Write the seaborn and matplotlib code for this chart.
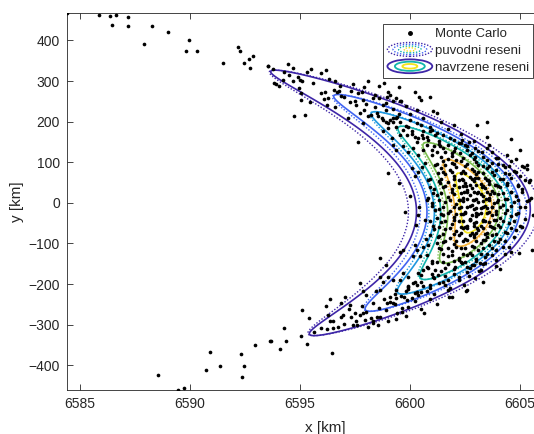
import numpy as np
import matplotlib
matplotlib.use("Agg")
import matplotlib.pyplot as plt
import seaborn as sns
from matplotlib.legend_handler import HandlerBase
from matplotlib.patches import Ellipse
from matplotlib.lines import Line2D

# Monte Carlo samples (x, y in km)
arm_up_x = [6584.39, 6585.88, 6586.37, 6586.61, 6587.19, 6586.43, 6587.16, 6588.26, 6587.92, 6589.0,
            6589.96, 6589.83, 6590.30, 6591.48, 6592.18, 6592.26, 6592.47, 6592.66, 6592.85, 6592.72,
            6593.52, 6594.44, 6594.67, 6593.55, 6593.75, 6594.28, 6594.48, 6594.24, 6593.83, 6593.90,
            6594.05, 6594.67, 6594.89, 6595.0, 6595.08, 6594.94, 6595.32, 6595.50, 6595.96, 6596.19,
            6596.29, 6596.57, 6595.58, 6595.05, 6595.96, 6596.14, 6596.08, 6596.26, 6596.53, 6596.69,
            6596.75, 6595.05, 6595.44, 6596.23, 6596.60, 6596.87, 6594.70, 6595.24,
            6597.33, 6597.64, 6597.79, 6597.25, 6597.56, 6597.86, 6598.32, 6598.58, 6598.78, 6598.93,
            6599.08, 6599.23, 6599.38, 6599.54, 6600.42, 6600.48, 6601.06, 6597.18, 6597.71, 6597.86,
            6598.09, 6598.24, 6598.55, 6598.70, 6598.78, 6598.90, 6599.0, 6599.08, 6599.23, 6599.35,
            6599.54, 6599.38, 6599.69, 6599.0, 6598.78, 6599.16, 6599.54, 6599.84, 6600.07, 6600.22,
            6600.37, 6600.53, 6600.75, 6600.90, 6601.13, 6599.23, 6599.38, 6599.69, 6599.91, 6600.14,
            6600.37, 6600.75, 6600.98, 6601.21, 6601.36, 6597.64,
            6603.04, 6603.49, 6603.57, 6603.49, 6603.26, 6602.96, 6602.66, 6602.35, 6602.20, 6602.50,
            6602.05, 6601.89, 6601.59, 6602.27, 6602.73, 6602.96, 6601.74,
            6601.0, 6601.4, 6601.9, 6602.4, 6602.8, 6603.3, 6603.9, 6604.4, 6600.6, 6601.1,
            6601.5, 6602.0, 6602.6, 6603.1, 6603.7, 6600.3, 6600.8, 6601.3, 6601.8, 6602.3,
            6602.9, 6600.1, 6600.6, 6601.2, 6601.7, 6602.3, 6599.8, 6600.3, 6600.9, 6601.4,
            6602.0, 6599.4, 6600.0, 6600.6, 6601.2, 6599.2, 6599.8, 6600.3, 6598.9, 6599.6,
            6598.4, 6599.0, 6597.9, 6598.6,
            6597.0, 6597.5, 6598.0, 6598.4, 6598.9, 6599.5, 6600.0, 6600.5, 6601.0, 6601.5,
            6602.0, 6602.6, 6597.9, 6598.5, 6599.2, 6599.9, 6600.6, 6601.3, 6596.8, 6597.4,
            6598.1, 6598.8, 6599.5, 6600.2, 6600.9, 6603.5, 6604.6, 6605.0]
arm_up_y = [467, 462, 460, 464, 459, 439, 436, 435, 391, 420,
            402, 374, 374, 344, 384, 373, 344, 355, 362, 333,
            336, 342, 332, 336, 330, 322, 315, 303, 295, 292,
            289, 300, 309, 303, 299, 283, 323, 330, 319, 328,
            305, 299, 295, 270, 270, 273, 256, 259, 278, 274,
            276, 253, 248, 240, 235, 264, 215, 217,
            276, 270, 274, 248, 241, 254, 258, 259, 241, 262,
            266, 250, 258, 250, 262, 254, 227, 209, 221, 196,
            213, 217, 213, 209, 204, 200, 196, 204, 209, 210,
            200, 188, 180, 184, 176, 159, 167, 167, 176, 163,
            159, 167, 163, 176, 167, 143, 131, 139, 126, 135,
            118, 143, 131, 126, 139, 149,
            192, 163, 143, 135, 126, 135, 151, 155, 147, 143,
            135, 122, 126, 122, 118, 114, 143,
            118, 112, 116, 110, 122, 114, 110, 117, 130, 139,
            134, 128, 131, 127, 125, 150, 156, 152, 160, 148,
            153, 170, 176, 172, 181, 170, 190, 196, 188, 199,
            193, 212, 218, 210, 222, 232, 238, 229, 246, 252,
            266, 272, 285, 289,
            262, 250, 244, 236, 228, 220, 205, 192, 180, 168,
            155, 140, 230, 222, 198, 186, 160, 145, 288, 292,
            300, 296, 286, 274, 262, 198, 158, 130]

core_x = [6601.5, 6601.9, 6602.3, 6602.6, 6603.0, 6603.3, 6603.7, 6604.2, 6604.6, 6605.1,
          6601.4, 6601.8, 6602.1, 6602.4, 6602.8, 6603.1, 6603.5, 6603.9, 6604.3, 6604.8, 6605.3,
          6601.6, 6602.0, 6602.3, 6602.7, 6603.0, 6603.4, 6603.8, 6604.1, 6604.5, 6605.0,
          6601.3, 6601.7, 6602.2, 6602.5, 6602.9, 6603.2, 6603.6, 6603.9, 6604.4, 6604.9, 6605.4,
          6601.5, 6601.9, 6602.2, 6602.6, 6602.8, 6603.1, 6603.4, 6603.7, 6604.1, 6604.6, 6605.1,
          6601.2, 6601.7, 6602.0, 6602.4, 6602.7, 6603.0, 6603.3, 6603.6, 6604.0, 6604.3, 6604.8, 6605.3,
          6601.6, 6602.1, 6602.4, 6602.8, 6603.1, 6603.4, 6603.8, 6604.2, 6604.7, 6605.0,
          6601.3, 6601.8, 6602.2, 6602.5, 6602.9, 6603.2, 6603.5, 6603.9, 6604.4, 6604.9,
          6601.5, 6602.0, 6602.3, 6602.7, 6603.0, 6603.3, 6603.7, 6604.1, 6604.6, 6605.2,
          6601.4, 6601.9, 6602.2, 6602.6, 6602.9, 6603.2, 6603.6, 6604.0, 6604.5, 6605.0,
          6601.6, 6602.1, 6602.4, 6602.8, 6603.1, 6603.5, 6603.8, 6604.3, 6604.8,
          6601.3, 6601.8, 6602.2, 6602.5, 6602.9, 6603.3, 6603.7, 6604.1, 6604.7,
          6601.5, 6602.0, 6602.4, 6602.8, 6603.2, 6603.6, 6604.0, 6604.5,
          6601.4, 6601.9, 6602.3, 6602.7, 6603.1, 6603.5, 6603.9, 6604.6,
          6601.7, 6602.2, 6602.6, 6603.0, 6603.4, 6603.9,
          6602.35, 6602.95, 6603.55, 6602.55, 6603.25, 6603.85, 6602.45, 6603.05, 6603.65, 6602.25,
          6602.85, 6603.45, 6603.95, 6602.6, 6603.2, 6603.7, 6602.4, 6603.0, 6603.6, 6602.7,
          6603.3, 6603.9, 6602.5, 6603.05, 6603.65, 6602.9, 6603.5,
          6599.0, 6599.50, 6599.99, 6600.42, 6599.76, 6600.37, 6600.26, 6600.07, 6600.22, 6600.37,
          6600.53, 6600.68, 6600.83, 6600.90, 6601.06, 6600.98, 6601.13, 6600.75, 6600.68, 6601.06,
          6601.21, 6601.28, 6600.90, 6601.21, 6601.36, 6601.28, 6601.13,
          6600.9, 6601.1, 6600.8, 6601.0, 6600.9, 6601.1, 6600.7, 6601.2,
          6605.17, 6605.47, 6604.94, 6605.55, 6605.5, 6605.6,
          6601.7, 6602.1, 6602.9, 6603.5, 6604.0, 6604.8,
          6601.6, 6602.0, 6602.5, 6603.1, 6603.6, 6604.0, 6604.5, 6605.3,
          6601.5, 6601.9, 6602.5, 6602.9, 6603.3, 6603.7, 6604.3, 6604.7,
          6601.4, 6602.0, 6602.4, 6602.8, 6603.1, 6603.5, 6604.2, 6604.6, 6605.2,
          6601.6, 6602.0, 6602.4, 6602.7, 6603.0, 6603.3, 6603.6, 6604.0, 6604.4, 6604.9,
          6601.4, 6601.9, 6602.3, 6602.6, 6602.9, 6603.2, 6603.5, 6603.8, 6604.2, 6604.6, 6605.1,
          6601.3, 6601.8, 6602.2, 6602.6, 6602.9, 6603.3, 6603.6, 6604.0, 6604.4, 6604.9, 6605.4,
          6601.5, 6602.0, 6602.3, 6602.7, 6603.0, 6603.3, 6603.7, 6604.1, 6604.6, 6605.2,
          6601.4, 6601.7, 6602.1, 6602.5, 6602.8, 6603.1, 6603.5, 6603.9, 6604.3, 6604.8,
          6601.6, 6602.0, 6602.4, 6602.7, 6603.0, 6603.4, 6603.8, 6604.2, 6604.7,
          6601.3, 6601.8, 6602.3, 6602.6, 6602.9, 6603.3, 6603.7, 6604.1, 6604.6, 6605.1,
          6601.5, 6602.0, 6602.3, 6602.7, 6603.0, 6603.4, 6603.9, 6604.4,
          6601.6, 6602.1, 6602.6, 6603.0, 6603.4, 6603.8, 6604.3,
          6601.3, 6601.7, 6602.1, 6602.5, 6602.9, 6603.3, 6603.7, 6604.2,
          6601.5, 6601.9, 6602.4, 6602.8, 6603.2, 6603.7, 6604.3,
          6601.0, 6601.5, 6602.0, 6602.5, 6603.0]
core_y = [102, 97, 104, 95, 101, 92, 99, 94, 103, 90,
          86, 81, 88, 79, 84, 77, 86, 80, 88, 76, 83,
          71, 66, 73, 64, 70, 62, 68, 60, 72, 65,
          55, 51, 57, 48, 54, 46, 53, 44, 50, 43, 52,
          38, 33, 40, 31, 37, 28, 36, 30, 39, 27, 34,
          20, 15, 22, 13, 19, 10, 18, 12, 21, 9, 16, 5,
          2, -3, 4, -6, 1, -8, -1, -5, 3, -9,
          -15, -19, -12, -22, -16, -24, -13, -20, -17, -25,
          -31, -36, -28, -39, -33, -41, -30, -37, -32, -40,
          -48, -53, -45, -56, -50, -58, -47, -54, -49, -57,
          -64, -70, -62, -73, -67, -75, -63, -71, -66,
          -81, -86, -79, -90, -84, -92, -80, -88, -83,
          -97, -102, -95, -106, -99, -104, -96, -108,
          -114, -119, -112, -123, -117, -126, -115, -121,
          -131, -136, -129, -138, -133, -140,
          58, 61, 57, 42, 39, 45, 26, 24, 23, 8,
          6, 9, 3, -10, -13, -11, -27, -25, -23, -43,
          -44, -42, -60, -62, -58, -78, -85,
          73, 50, 16, -9, -23, -30, -54, 85, 65, 77,
          89, 98, 57, 40, 24, -1, -17, 7, -42, -58,
          -38, -83, -79, -99, 49, 73, 94,
          60, 35, 12, -8, -45, -65, -90, 95,
          89, 57, -124, -116, 12, -30,
          109, 106, 108, 105, 110, 107,
          93, 95, 91, 94, 90, 96, 92, 94,
          75, 77, 74, 78, 73, 76, 74, 78,
          58, 60, 56, 59, 62, 57, 59, 61, 57,
          42, 44, 41, 45, 43, 41, 46, 42, 44, 41,
          25, 27, 24, 28, 26, 23, 27, 25, 24, 28, 26,
          7, 8, 6, 9, 7, 5, 8, 6, 9, 7, 8,
          -10, -9, -11, -8, -12, -10, -9, -11, -8, -10,
          -27, -26, -28, -25, -29, -27, -26, -28, -25, -27,
          -44, -43, -45, -42, -46, -44, -43, -45, -44,
          -60, -61, -59, -62, -58, -61, -60, -59, -62, -60,
          -76, -77, -75, -78, -74, -77, -76, -75,
          -93, -94, -92, -95, -91, -94, -93,
          -110, -111, -109, -112, -108, -111, -110, -109,
          -127, -128, -126, -129, -125, -128, -127,
          -143, -145, -142, -146, -144]

arm_lo_x = [6590.89, 6592.29, 6592.96, 6593.63, 6590.72, 6591.36, 6592.46, 6592.37, 6588.52, 6589.46,
            6589.70,
            6597.02, 6596.87, 6596.37, 6596.19, 6595.08, 6596.26, 6596.87, 6596.95, 6596.38, 6595.39,
            6594.25, 6595.96, 6596.23, 6596.49, 6596.72, 6595.61, 6595.05, 6594.35, 6593.66, 6594.09,
            6595.30, 6596.45,
            6598.62, 6599.54, 6599.69, 6600.14, 6600.30, 6600.45, 6600.22, 6600.60, 6600.75, 6600.83,
            6598.90, 6597.71, 6598.62, 6599.0, 6598.78, 6597.86, 6598.01, 6598.47, 6598.62, 6599.23,
            6599.38, 6599.08, 6598.93, 6599.23, 6599.38, 6599.61, 6599.61, 6599.84, 6599.81, 6599.91,
            6600.14, 6600.30, 6600.22, 6600.37, 6600.07, 6600.60, 6600.75, 6600.37, 6600.60, 6600.75,
            6600.98, 6601.13, 6601.28, 6601.06, 6599.54, 6599.69, 6599.91, 6597.33, 6597.48, 6597.71,
            6597.86, 6597.56, 6597.94, 6598.24, 6598.32, 6598.62, 6598.55, 6598.09, 6597.41, 6599.35,
            6600.64, 6597.25,
            6604.10, 6602.55, 6601.77, 6601.59, 6601.74, 6601.82, 6602.20, 6602.66, 6602.96, 6603.11,
            6603.19, 6602.89, 6602.58, 6602.35, 6602.05, 6601.74, 6602.43,
            6601.2, 6601.7, 6602.3, 6602.8, 6603.4, 6603.9, 6600.8, 6601.4, 6602.0, 6602.6,
            6603.2, 6600.5, 6601.1, 6601.6, 6602.2, 6600.2, 6600.9, 6601.3, 6599.9, 6600.5,
            6601.1, 6599.6, 6600.2, 6600.9, 6599.3, 6599.9, 6598.9, 6599.4, 6598.5,
            6597.2, 6597.8, 6598.3, 6598.8, 6599.3, 6599.9, 6600.5, 6601.0, 6601.6, 6602.2,
            6598.0, 6598.6, 6599.1, 6599.7, 6600.3, 6600.9, 6601.5, 6602.0, 6602.7, 6603.3,
            6596.5, 6597.0, 6597.6, 6598.3, 6599.0, 6599.8, 6600.5, 6601.2, 6601.9, 6602.6,
            6603.3]
arm_lo_y = [-367, -373, -351, -341, -411, -403, -401, -428, -423, -461,
            -456,
            -231, -246, -237, -253, -264, -276, -280, -276, -291, -284,
            -309, -309, -310, -309, -307, -319, -329, -341, -341, -360,
            -348, -371,
            -135, -120, -116, -132, -116, -132, -103, -108, -128, -103,
            -153, -198, -183, -182, -194, -218, -227, -218, -214, -190,
            -214, -231, -247, -247, -235, -260, -268, -239, -218, -206,
            -198, -202, -222, -227, -235, -206, -218, -173, -165, -157,
            -149, -165, -177, -182, -190, -173, -182, -280, -272, -276,
            -272, -292, -288, -284, -292, -280, -300, -305, -300, -287,
            -272, -251,
            -163, -218, -233, -202, -214, -210, -182, -180, -185, -169,
            -149, -153, -157, -149, -157, -190, -202,
            -145, -150, -146, -152, -147, -156, -160, -168, -163, -171,
            -166, -178, -186, -181, -189, -196, -203, -197, -212, -219,
            -225, -230, -241, -238, -250, -256, -264, -272, -280,
            -262, -255, -246, -236, -224, -208, -195, -176, -160, -140,
            -270, -258, -244, -232, -220, -210, -195, -176, -160, -150,
            -292, -298, -300, -296, -290, -278, -262, -248, -232, -214,
            -196]

# density model of both solutions (range / bearing around the centre of the Earth)
range_mean_km = 6602.85
bearing_mean_rad = 0.0
bearing_sigma_rad = 0.0243
range_sigma_new = 1.27
range_sigma_old = 1.45
range_bearing_slope = -18.0
contour_levels = [0.125, 0.25, 0.375, 0.5, 0.65, 0.8, 0.9]
parula = ["#3e26a8", "#4165f2", "#1e98e0", "#13b5ad", "#7cbf50", "#f7b53c", "#f3e31c"]

sns.set_style("ticks")
plt.rcParams["font.family"] = ["Liberation Sans", "DejaVu Sans"]
plt.rcParams["axes.edgecolor"] = "#262626"
plt.rcParams["xtick.color"] = "#262626"
plt.rcParams["ytick.color"] = "#262626"

fig = plt.figure(figsize=(5.34, 4.34), dpi=100)
ax = fig.add_axes([66.7 / 534, 1 - 390 / 434, (583 - 66.7) / 534, (390 - 13.3) / 434])


def banana(sig_r):
    gx = np.linspace(6583, 6609, 500)
    gy = np.linspace(-480, 480, 500)
    X, Y = np.meshgrid(gx, gy)
    r = np.hypot(X, Y)
    th = np.arctan2(Y, X)
    dr = r - range_mean_km - range_bearing_slope * th
    dth = th - bearing_mean_rad
    return X, Y, np.exp(-0.5 * ((dth / bearing_sigma_rad) ** 2 + (dr / sig_r) ** 2))


mc_x = arm_up_x + core_x + arm_lo_x
mc_y = arm_up_y + core_y + arm_lo_y
sns.scatterplot(x=mc_x, y=mc_y, color="k", s=7, linewidth=0, ax=ax, zorder=3, legend=False)

X, Y, P = banana(range_sigma_old)
ax.contour(X, Y, P, levels=contour_levels, colors=parula, linewidths=1.0,
           linestyles=[(0, (1, 1.3))])
X, Y, P = banana(range_sigma_new)
ax.contour(X, Y, P, levels=contour_levels, colors=parula, linewidths=1.2)

ax.set_xlim(6584.39, 6584.39 + (583 - 66.7) / 22.0)
ax.set_ylim(-461, 467)
ax.set_xticks([6585, 6590, 6595, 6600, 6605])
ax.set_yticks([-400, -300, -200, -100, 0, 100, 200, 300, 400])
ax.tick_params(direction="in", top=True, right=True, length=4, width=0.6, labelsize=10, pad=5)
for s in ax.spines.values():
    s.set_linewidth(0.6)
ax.set_xlabel("x [km]", fontsize=11, color="#262626", labelpad=7)
ax.set_ylabel("y [km]", fontsize=11, color="#262626", labelpad=3)


class EllipseIcon(HandlerBase):
    def __init__(self, colors, dotted):
        super().__init__()
        self.colors = colors
        self.dotted = dotted

    def create_artists(self, legend, orig_handle, xdescent, ydescent, width, height, fontsize, trans):
        cx = 0.5 * width - xdescent
        cy = 0.5 * height - ydescent
        out = []
        n = len(self.colors)
        for i, c in enumerate(self.colors):
            f = 1 - i / n
            e = Ellipse((cx, cy), width * f, height * 1.5 * f, fill=False, edgecolor=c,
                        linewidth=1.0 if self.dotted else 1.3,
                        linestyle=(0, (1, 1.2)) if self.dotted else "-", transform=trans)
            out.append(e)
        return out


h_mc = Line2D([], [], marker=".", color="k", linestyle="none", markersize=5)
h_old = Line2D([], [])
h_new = Line2D([], [])
leg = ax.legend([h_mc, h_old, h_new], ["Monte Carlo", "puvodni reseni", "navrzene reseni"],
                loc="upper right", bbox_to_anchor=(533 / 534, 1 - 24 / 434),
                bbox_transform=fig.transFigure, borderaxespad=0, fontsize=9.5,
                handlelength=3.4, handletextpad=0.2, labelspacing=0.35, borderpad=0.3,
                fancybox=False, framealpha=1, edgecolor="#262626",
                handler_map={h_old: EllipseIcon(["#3e26a8", "#4165f2", "#13b5ad", "#f3e31c"], True),
                             h_new: EllipseIcon(["#3e26a8", "#13b5ad", "#f3e31c"], False)})
leg.get_frame().set_linewidth(0.6)

fig.savefig("out.png", dpi=100)
